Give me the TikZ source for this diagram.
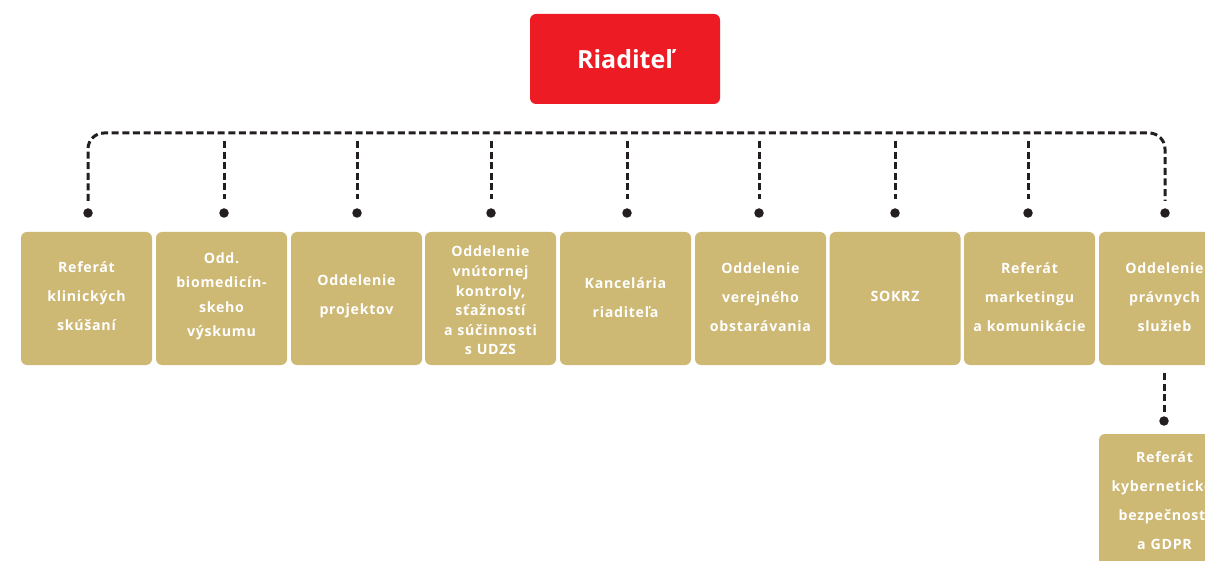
\documentclass[tikz,border=0pt]{standalone}
\usepackage{fontspec}
\setmainfont{Open Sans}
\newfontfamily\unitfont{Open Sans}[LetterSpace=5]
\newfontfamily\chieffont{Open Sans}[LetterSpace=0]
\definecolor{gold}{HTML}{CDB874}
\definecolor{boss}{HTML}{ED1C24}
\definecolor{ink}{HTML}{231F20}
\begin{document}
\begin{tikzpicture}[x=1pt,y=-1pt,
  unit/.style={fill=gold, rounded corners=6pt, minimum width=131pt, minimum height=133pt, inner sep=0pt},
  utext/.style={text=white, font=\unitfont\bfseries\fontsize{14.2}{29}\selectfont, align=center, inner sep=0pt, text width=140pt},
  chief/.style={fill=boss, rounded corners=6pt, minimum width=190pt, minimum height=90pt,
    text=white, font=\chieffont\bfseries\fontsize{25}{30}\selectfont, inner sep=0pt},
  link/.style={draw=ink, line width=3pt, dash pattern=on 7pt off 3.6pt},
  knob/.style={circle, fill=ink, minimum size=9.5pt, inner sep=0pt}]
\useasboundingbox (0,0) rectangle (1205,561);
\clip (0,0) rectangle (1205,561);
\fill[white] (0,0) rectangle (1205,561);

\node[chief] (dir) at (625,59) {Riaditeľ};

% units
\node[unit, label={[utext, yshift=2.5pt]center:{Referát\\klinických\\skúšaní}}] (u1) at (86.5,298.5) {};
\node[unit, label={[utext, yshift=2pt, font=\unitfont\bfseries\fontsize{14.2}{24.5}\selectfont]center:{Odd.\\biomedicín-\\skeho\\výskumu}}] (u2) at (221.5,298.5) {};
\node[unit, label={[utext, yshift=2pt]center:{Oddelenie\\projektov}}] (u3) at (356.5,298.5) {};
\node[unit, label={[utext, yshift=-2pt, font=\unitfont\bfseries\fontsize{14.2}{19.6}\selectfont]center:{Oddelenie\\vnútornej\\kontroly,\\sťažností\\a súčinnosti\\s UDZS}}] (u4) at (490.5,298.5) {};
\node[unit, label={[utext, yshift=1pt]center:{Kancelária\\riaditeľa}}] (u5) at (625.5,298.5) {};
\node[unit, label={[utext, yshift=1.5pt]center:{Oddelenie\\verejného\\obstarávania}}] (u6) at (760.5,298.5) {};
\node[unit, label={[utext, yshift=2pt]center:{SOKRZ}}] (u7) at (895,298.5) {};
\node[unit, label={[utext, yshift=1.5pt]center:{Referát\\marketingu\\a komunikácie}}] (u8) at (1029.5,298.5) {};
\node[unit, label={[utext, yshift=1.5pt]center:{Oddelenie\\právnych\\služieb}}] (u9) at (1164.5,298.5) {};
\node[unit, label={[utext, yshift=0pt]center:{Referát\\kybernetickej\\bezpečnosti\\a GDPR}}] (u10) at (1164.5,500.5) {};

% knobs
\foreach \i/\x in {1/88,2/224,3/357,4/491,5/627,6/759,7/895,8/1028,9/1165}{
  \node[knob] (k\i) at (\x,213) {};
  \coordinate (t\i) at (\x,141);
  \coordinate (b\i) at (\x,199);
}
\node[knob] (k10) at (1164,421) {};
\coordinate (t10) at (1164,373);
\coordinate (b10) at (1164,415);

% main bus
\draw[link, rounded corners=16pt] (88,201) -- (88,133) -- (1165,133) -- (1165,201);
\foreach \i in {2,...,8}{\draw[link] (t\i) -- (b\i);}
\draw[link] (t10) -- (b10);
\end{tikzpicture}
\end{document}
